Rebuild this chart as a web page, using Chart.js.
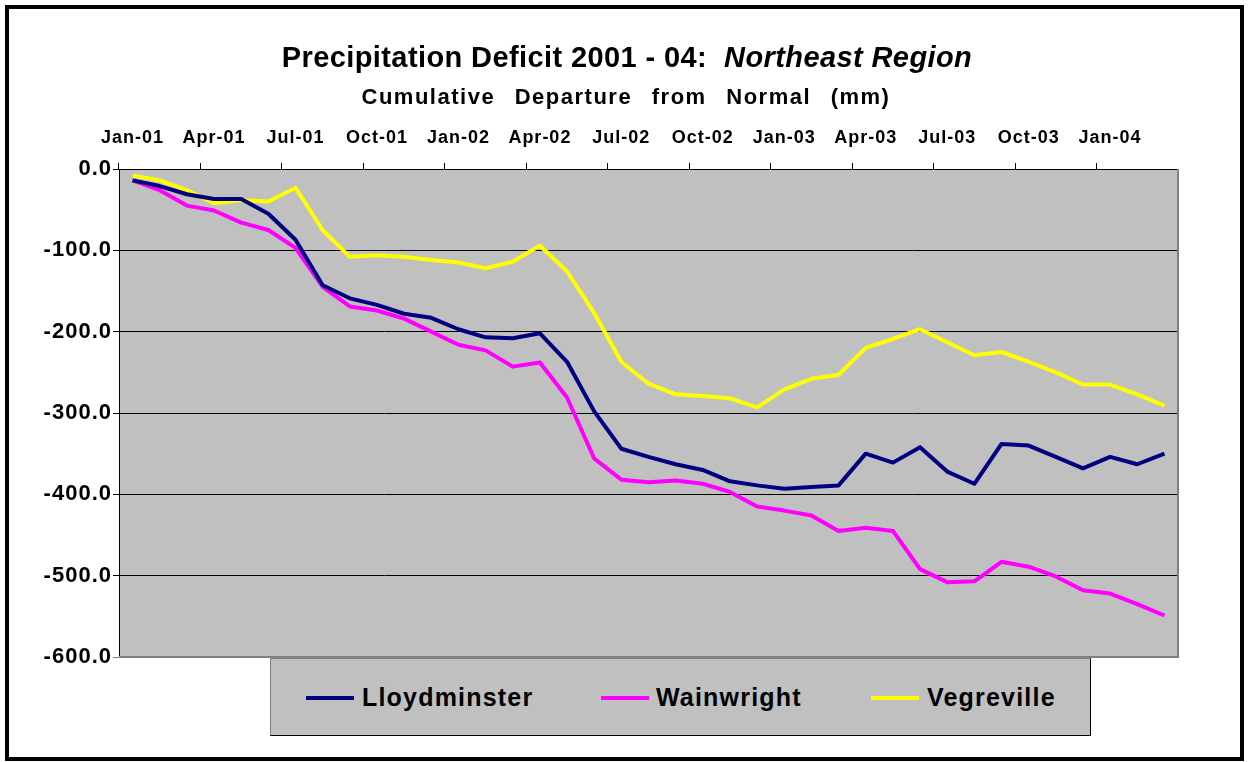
<!DOCTYPE html>
<html>
<head>
<meta charset="utf-8">
<title>Precipitation Deficit 2001 - 04: Northeast Region</title>
<script src="https://cdn.jsdelivr.net/npm/chart.js@4.4.1/dist/chart.umd.min.js"></script>
<style>
  body { margin: 0; background: #fff; font-family: Arial, "Liberation Sans", sans-serif; }
  #wrap { position: relative; width: 1248px; height: 762px; overflow: hidden; }
  #chart { position: absolute; left: 0; top: 0; }
  #frame { position: absolute; left: 5px; top: 5px; width: 1239px; height: 756px; box-sizing: border-box; border: 4px solid #000; pointer-events: none; }
  .title { position: absolute; left: 0; width: 1248px; text-align: center; font-weight: bold; color: #000; white-space: nowrap; }
  #t1 { top: 43px; left: 3px; font-size: 29px; line-height: 29px; letter-spacing: 0.4px; }
  #t2 { top: 86px; left: 2px; font-size: 22px; line-height: 22px; letter-spacing: 1.5px; word-spacing: 12px; }
  #legend { position: absolute; left: 270px; top: 658px; width: 821px; height: 78px; box-sizing: border-box; background: #c0c0c0; border: 1px solid #000; border-top-color: #808080; border-left-color: #808080; }
  .sw { position: absolute; top: 37px; width: 48px; height: 4px; }
  .lt { position: absolute; top: 26px; font-size: 25px; line-height: 25px; font-weight: bold; letter-spacing: 1.2px; color: #000; white-space: nowrap; }
</style>
</head>
<body>
<div id="wrap">
  <canvas id="chart" width="1248" height="762"></canvas>
  <div class="title" id="t1">Precipitation Deficit 2001 - 04:&nbsp; <i>Northeast Region</i></div>
  <div class="title" id="t2">Cumulative Departure from Normal (mm)</div>
  <div id="legend"></div>
  <div id="frame"></div>
</div>
<script>
// month labels, Jan-01 .. Mar-04
const months = [
  "Jan-01", "Feb-01", "Mar-01", "Apr-01", "May-01", "Jun-01", "Jul-01", "Aug-01", "Sep-01", "Oct-01", "Nov-01", "Dec-01",
  "Jan-02", "Feb-02", "Mar-02", "Apr-02", "May-02", "Jun-02", "Jul-02", "Aug-02", "Sep-02", "Oct-02", "Nov-02", "Dec-02",
  "Jan-03", "Feb-03", "Mar-03", "Apr-03", "May-03", "Jun-03", "Jul-03", "Aug-03", "Sep-03", "Oct-03", "Nov-03", "Dec-03",
  "Jan-04", "Feb-04", "Mar-04"
]

// cumulative departure from normal (mm)
const lloydminster = [
  -14, -21, -31, -37, -37, -55, -87, -143, -159, -167, -178, -183,
  -197, -207, -208, -202, -237, -298, -344, -354, -363, -370, -384, -389,
  -393, -391, -389, -350, -361, -342, -372, -387, -338, -340, -354, -368,
  -354, -363, -350
]
const wainwright = [
  -14, -26, -45, -51, -66, -75, -97, -145, -169, -174, -184, -200,
  -216, -223, -243, -238, -281, -356, -382, -385, -383, -387, -397, -415,
  -420, -426, -445, -441, -445, -492, -508, -507, -483, -489, -501, -518,
  -522, -535, -549
]
const vegreville = [
  -8, -14, -26, -42, -38, -40, -23, -75, -108, -106, -108, -112,
  -115, -122, -114, -94, -126, -177, -237, -264, -277, -279, -282, -293,
  -271, -258, -253, -220, -209, -197, -213, -229, -225, -237, -250, -265,
  -265, -277, -291
]

const yTicks = [0, -100, -200, -300, -400, -500, -600]

const series = [
  { name: "Lloydminster", data: lloydminster, color: "#000080", sw: 35, tx: 91 },
  { name: "Wainwright", data: wainwright, color: "#ff00ff", sw: 330, tx: 385 },
  { name: "Vegreville", data: vegreville, color: "#ffff00", sw: 600, tx: 656 }
]

const FONT = 'Arial, "Liberation Sans", sans-serif'

// ===============================
// PLOT AREA BACKGROUND + FRAME
// ===============================
const plotArea = {
  id: "plotArea",
  beforeDraw(c) {
    const { ctx, chartArea: a } = c
    ctx.save()
    ctx.fillStyle = "#c0c0c0"
    ctx.fillRect(a.left, a.top, a.right - a.left, a.bottom - a.top)
    ctx.restore()
    // wider label text like the original
    ctx.letterSpacing = "1px"
  },
  afterDraw(c) {
    const { ctx, chartArea: a } = c
    ctx.save()
    ctx.strokeStyle = "#808080"
    ctx.lineWidth = 2
    ctx.beginPath()
    ctx.moveTo(a.right, a.top)
    ctx.lineTo(a.right, a.bottom)
    ctx.lineTo(a.left, a.bottom)
    ctx.stroke()
    ctx.restore()
  }
}

function buildChart() {
  const ctx = document.getElementById("chart").getContext("2d")

  new Chart(ctx, {
    type: "line",
    data: {
      labels: months,
      datasets: series.map(s => ({
        label: s.name,
        data: s.data,
        borderColor: s.color,
        backgroundColor: s.color,
        borderWidth: 4,
        borderJoinStyle: "round",
        pointRadius: 0,
        tension: 0,
        fill: false
      }))
    },
    options: {
      responsive: false,
      animation: false,
      devicePixelRatio: 1,
      layout: { padding: { left: 0, right: 70, top: 0, bottom: 105 } },
      plugins: {
        legend: { display: false },
        title: { display: false },
        tooltip: { enabled: false }
      },
      scales: {
        x: {
          position: "top",
          offset: true,
          grid: {
            offset: true,
            drawOnChartArea: false,
            tickLength: 6,
            color: c => (c.index % 3 === 0 ? "#000" : "rgba(0,0,0,0)")
          },
          border: { color: "#000", width: 1 },
          ticks: {
            autoSkip: false,
            maxRotation: 0,
            padding: 14,
            color: "#000",
            font: { family: FONT, size: 18, weight: "bold" },
            callback: (v, i) => (i % 3 === 0 ? months[i] : "")
          },
          afterFit(s) { s.height = 169 }
        },
        y: {
          min: -600,
          max: 0,
          afterBuildTicks(s) { s.ticks = yTicks.map(v => ({ value: v })) },
          grid: {
            color: c => (c.tick && c.tick.value === -600 ? "#808080" : "#000"),
            lineWidth: 1,
            tickLength: 6
          },
          border: { color: "#000", width: 1 },
          ticks: {
            padding: 1,
            color: "#000",
            font: { family: FONT, size: 22, weight: "bold" },
            callback: v => Number(v).toFixed(1)
          },
          afterFit(s) { s.width = 119 }
        }
      }
    },
    plugins: [plotArea]
  })
}

// ===============================
// LEGEND (html)
// ===============================
function buildLegend() {
  const box = document.getElementById("legend")
  series.forEach(s => {
    const sw = document.createElement("div")
    sw.className = "sw"
    sw.style.left = s.sw + "px"
    sw.style.background = s.color
    box.appendChild(sw)

    const t = document.createElement("div")
    t.className = "lt"
    t.style.left = s.tx + "px"
    t.textContent = s.name
    box.appendChild(t)
  })
}

buildChart()
buildLegend()
</script>
</body>
</html>
